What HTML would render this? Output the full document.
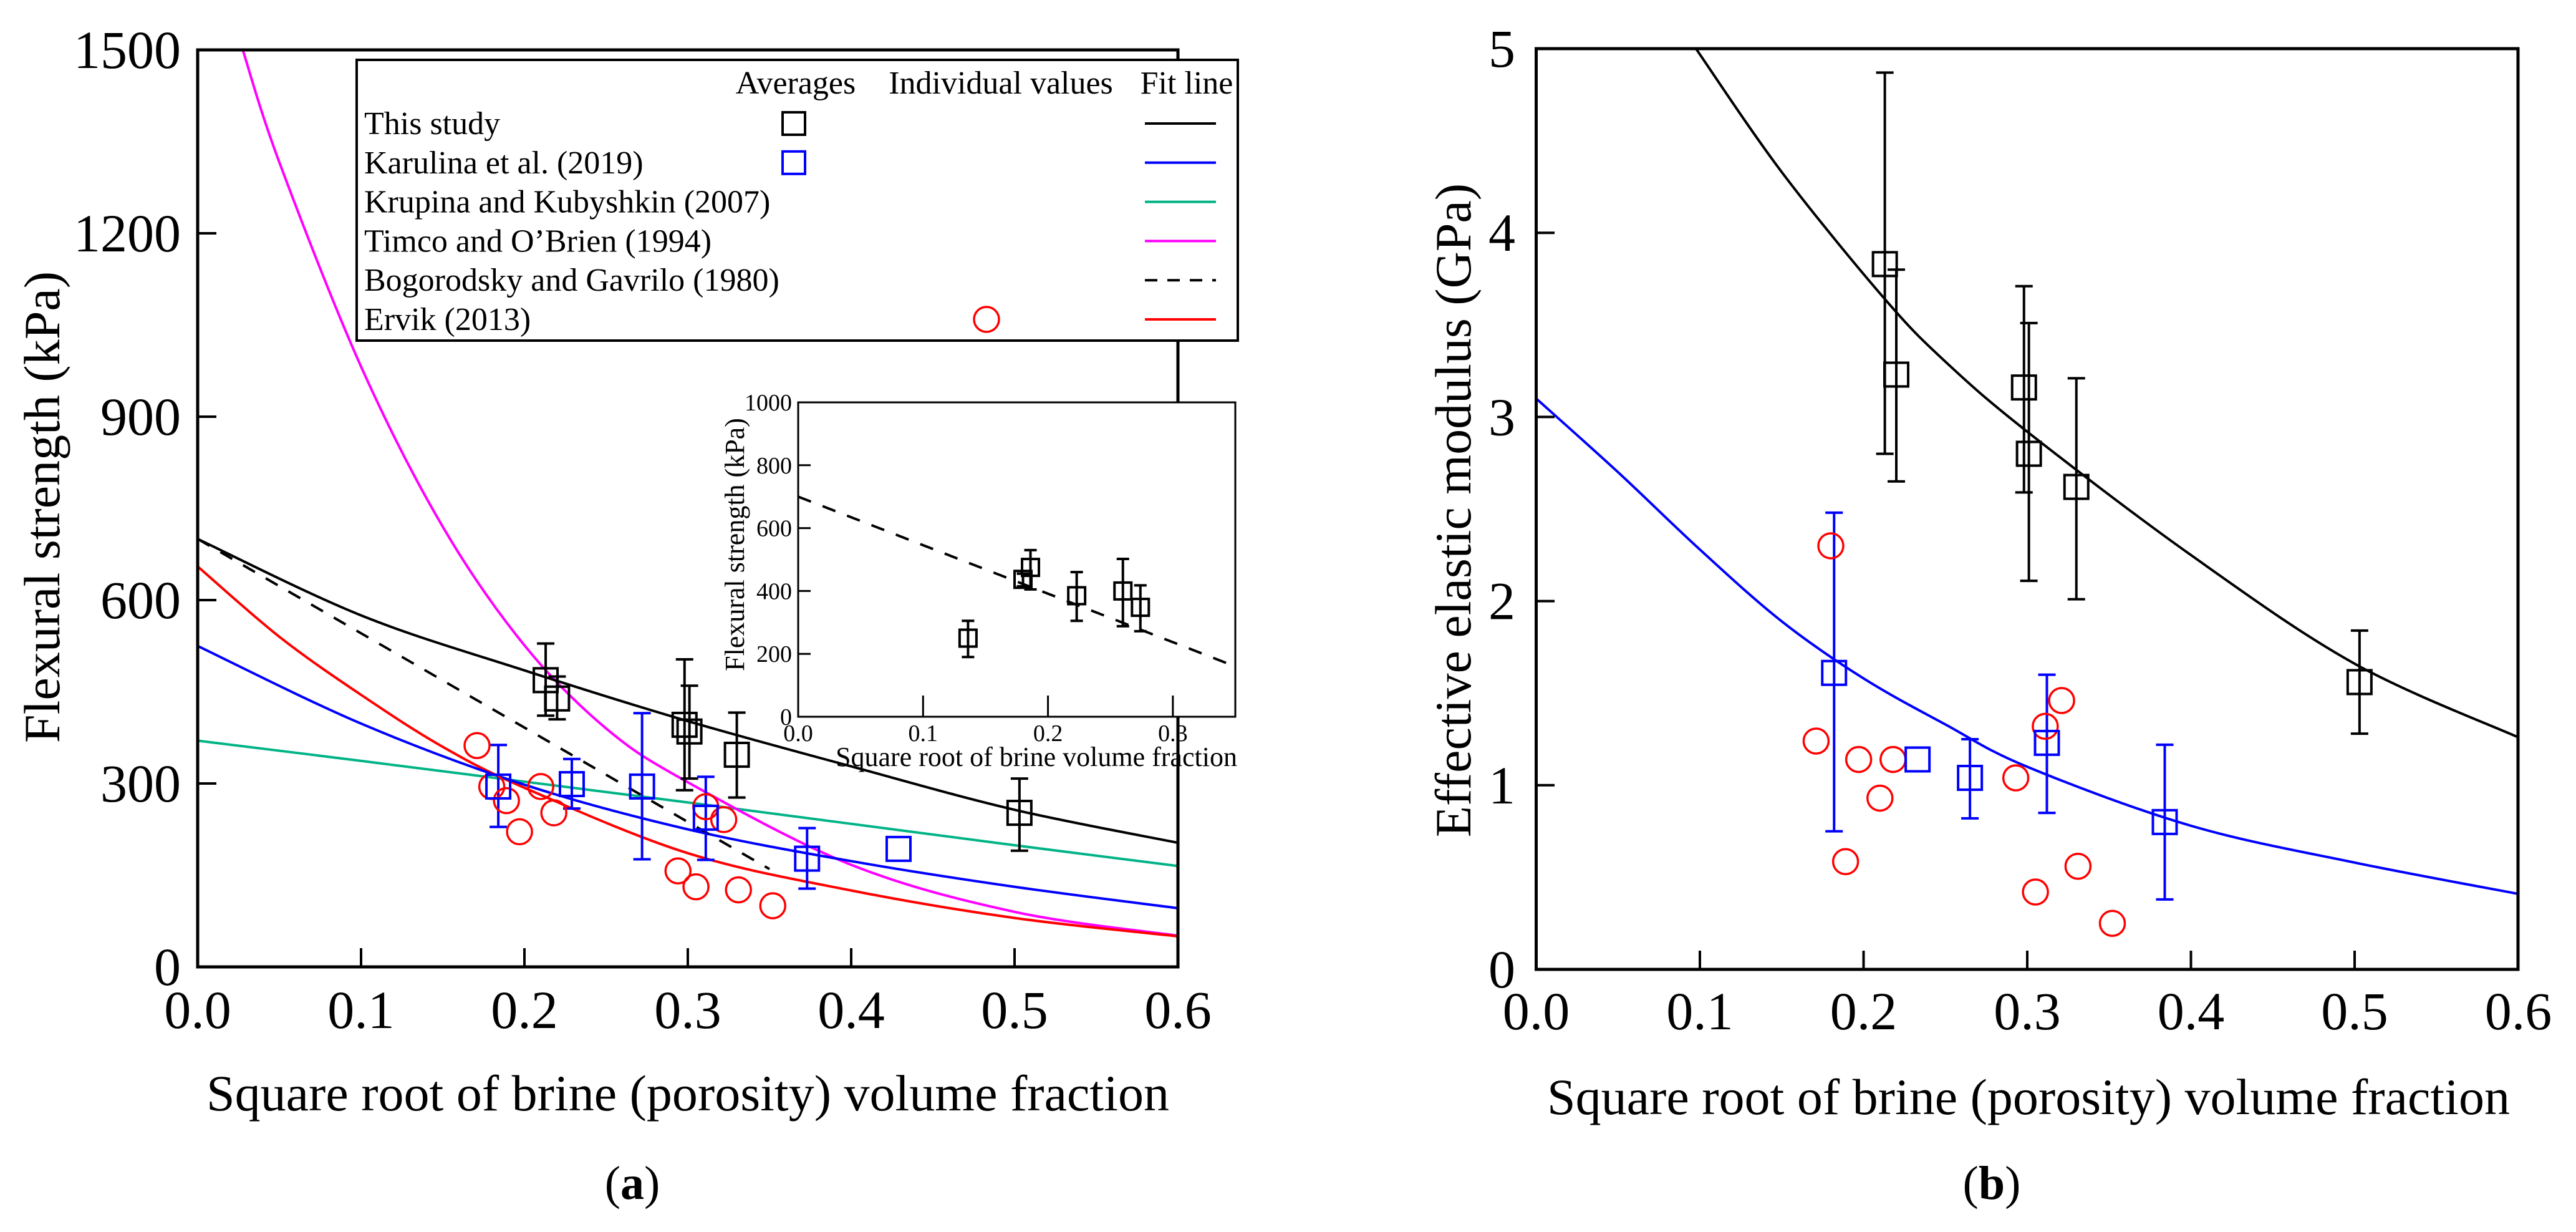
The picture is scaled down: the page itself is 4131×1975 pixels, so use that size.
<!DOCTYPE html>
<html><head><meta charset="utf-8"><style>
html,body{margin:0;padding:0;background:#fff;}
svg{display:block;}
svg text{font-family:"Liberation Serif","Times New Roman",serif;}
</style></head><body>
<svg id="fig" width="4131" height="1975" viewBox="0 0 4131 1975" xmlns="http://www.w3.org/2000/svg" font-family="Liberation Serif, serif">
<defs>
<clipPath id="clipA"><rect x="317" y="80" width="1572" height="1470"/></clipPath>
<clipPath id="clipB"><rect x="2463" y="78" width="1575" height="1476"/></clipPath>
<clipPath id="clipI"><rect x="1280" y="645" width="701" height="504"/></clipPath>
</defs>
<g id="root" font-family="Liberation Serif, serif"></g>
</svg>
<script>
// ---------- Panel (a) data ----------
const aTickX = [0,0.1,0.2,0.3,0.4,0.5,0.6];
const aTickY = [0,300,600,900,1200,1500];
const aThisX = [0.213,0.220,0.298,0.301,0.330,0.503];
const aThisY = [469,439,396,385,347,252];
const aThisHi = [529,475,503,460,416,308];
const aThisLo = [411,405,289,308,277,190];
const aKarX = [0.184,0.229,0.272,0.311,0.373,0.429];
const aKarY = [295,299,295,244,177,193];
const aKarHi = [363,340,415,311,227,null];
const aKarLo = [229,259,176,175,128,null];
const aErvX = [0.171,0.180,0.189,0.197,0.210,0.218,0.294,0.305,0.311,0.322,0.331,0.352];
const aErvY = [362,295,272,221,295,252,157,131,262,241,126,100];
const fitX = [0,0.1,0.2,0.3,0.4,0.5,0.6];
const fitThis = [700,575,485,402,328,257,203];
const fitKarulina = [525,398,298,225,173,131,96];
const fitKrupina = [370,337,303,269,234,199,165];
const fitTimcoX = [0.0276,0.05,0.1,0.15,0.2,0.25,0.3,0.4,0.5,0.6];
const fitTimco = [1500,1316,982,720,526,390,302,167,90,51];
const fitErvikX = [0,0.05,0.1,0.15,0.2,0.3,0.4,0.5,0.6];
const fitErvik = [655,540,445,360,293,186,125,80,50];
const fitBogX = [0,0.35];
const fitBog = [700,160];
// ---------- Inset data ----------
const iTickX = [0,0.1,0.2,0.3];
const iTickY = [0,200,400,600,800,1000];
const iX = [0.136,0.180,0.186,0.223,0.260,0.274];
const iY = [250,437,475,385,400,348];
const iHi = [305,455,530,460,502,418];
const iLo = [190,415,405,305,288,272];
// ---------- Panel (b) data ----------
const bTickX = [0,0.1,0.2,0.3,0.4,0.5,0.6];
const bTickY = [0,1,2,3,4,5];
const bThisX = [0.213,0.220,0.298,0.301,0.330,0.503];
const bThisY = [3.83,3.23,3.16,2.80,2.62,1.56];
const bThisHi = [4.87,3.80,3.71,3.51,3.21,1.84];
const bThisLo = [2.80,2.65,2.59,2.11,2.01,1.28];
const bKarX = [0.182,0.233,0.265,0.312,0.384];
const bKarY = [1.61,1.14,1.04,1.23,0.80];
const bKarHi = [2.48,null,1.25,1.60,1.22];
const bKarLo = [0.75,null,0.82,0.85,0.38];
const bErvX = [0.171,0.180,0.189,0.197,0.210,0.218,0.293,0.305,0.311,0.321,0.331,0.352];
const bErvY = [1.24,2.30,0.585,1.14,0.93,1.14,1.04,0.42,1.32,1.46,0.56,0.25];
const bFitThisX = [0.0976,0.15,0.213,0.25,0.3,0.4,0.5,0.6];
const bFitThis = [5,4.33,3.64,3.3,2.92,2.25,1.66,1.26];
const bFitKarX = [0,0.05,0.1,0.15,0.2,0.25,0.3,0.4,0.5,0.6];
const bFitKar = [3.1,2.7,2.28,1.89,1.58,1.33,1.10,0.78,0.58,0.41];

const NS = "http://www.w3.org/2000/svg";
const root = document.getElementById('root');
function mk(tag, attrs, parent){
  const e = document.createElementNS(NS, tag);
  for (const k in attrs) e.setAttribute(k, attrs[k]);
  (parent||root).appendChild(e);
  return e;
}
function txt(s, attrs, parent){ attrs['font-family']='Liberation Serif, serif'; const t = mk('text', attrs, parent); t.textContent = s; return t; }

const axA = v => 317 + v/0.6*1572;
const ayA = v => 1550 - v/1500*1470;
const axB = v => 2463.5 + v/0.6*1575;
const ayB = v => 1554 - v/5*1476;
const axI = v => 1280 + v/0.35*701;
const ayI = v => 1149 - v/1000*504;

function smoothPath(xs, ys, sx, sy){
  const p = xs.map((x,i)=>[sx(x), sy(ys[i])]);
  let d = `M${p[0][0]},${p[0][1]}`;
  if (p.length === 2) return d + ` L${p[1][0]},${p[1][1]}`;
  for (let i=0;i<p.length-1;i++){
    const p0 = p[i-1]||p[i], p1=p[i], p2=p[i+1], p3=p[i+2]||p[i+1];
    const c1=[p1[0]+(p2[0]-p0[0])/6, p1[1]+(p2[1]-p0[1])/6];
    const c2=[p2[0]-(p3[0]-p1[0])/6, p2[1]-(p3[1]-p1[1])/6];
    d += ` C${c1[0]},${c1[1]} ${c2[0]},${c2[1]} ${p2[0]},${p2[1]}`;
  }
  return d;
}

// ================= PANEL A =================
const gA = mk('g', {});


const curvesA = mk('g', {'clip-path':'url(#clipA)'}, gA);
function curve(parent, xs, ys, sx, sy, color, name, dash){
  const e = mk('path', {d: smoothPath(xs, ys, sx, sy), fill:'none', stroke:color, 'stroke-width':4, 'stroke-dasharray': dash||'none'}, parent);
  
  
}
curve(curvesA, fitX, fitKrupina, axA, ayA, '#00b386', 'krupina-fit-line');
curve(curvesA, fitTimcoX, fitTimco, axA, ayA, '#ff00ff', 'timco-fit-line');
curve(curvesA, fitErvikX, fitErvik, axA, ayA, '#ff0000', 'ervik-fit-line');
curve(curvesA, fitX, fitKarulina, axA, ayA, '#0000ff', 'karulina-fit-line');
curve(curvesA, fitX, fitThis, axA, ayA, '#000000', 'this-study-fit-line');
curve(curvesA, fitBogX, fitBog, axA, ayA, '#000000', 'bogorodsky-fit-line', '22,20');

function errBars(parent, xs, ys, hi, lo, sx, sy, color, name, cap){
  xs.forEach((x,i)=>{
    if (hi[i]==null) return;
    const X = sx(x);
    const g = mk('path', {d:`M${X},${sy(hi[i])} V${sy(lo[i])} M${X-cap},${sy(hi[i])} H${X+cap} M${X-cap},${sy(lo[i])} H${X+cap}`, stroke:color, 'stroke-width':4, fill:'none'}, parent);
    
    
  });
}
function squares(parent, xs, ys, sx, sy, color, name, s){
  xs.forEach((x,i)=>{
    const r = mk('rect', {x:sx(x)-s/2, y:sy(ys[i])-s/2, width:s, height:s, fill:'none', stroke:color, 'stroke-width':4}, parent);
    
    
  });
}
function circles(parent, xs, ys, sx, sy, name, r){
  xs.forEach((x,i)=>{
    const c = mk('circle', {cx:sx(x), cy:sy(ys[i]), r:r, fill:'none', stroke:'#ff0000', 'stroke-width':3.5}, parent);
    
    
  });
}
errBars(gA, aThisX, aThisY, aThisHi, aThisLo, axA, ayA, '#000', 'this-study-error-bar', 14);
errBars(gA, aKarX, aKarY, aKarHi, aKarLo, axA, ayA, '#0000ff', 'karulina-error-bar', 14);
circles(gA, aErvX, aErvY, axA, ayA, 'ervik-point', 20);
squares(gA, aThisX, aThisY, axA, ayA, '#000', 'this-study-average', 38);
squares(gA, aKarX, aKarY, axA, ayA, '#0000ff', 'karulina-average', 38);

function frame(parent, x0, y0, x1, y1, name){
  const r = mk('rect', {x:x0, y:y0, width:x1-x0, height:y1-y0, fill:'none', stroke:'#000', 'stroke-width':5}, parent);
  
  
}
frame(gA, 317, 80, 1889, 1550, 'plot-frame-a');
aTickY.forEach(v=>{
  const y = ayA(v);
  if (v>0 && v<1500) mk('line', {x1:317, x2:347, y1:y, y2:y, stroke:'#000', 'stroke-width':4}, gA);
  const t = txt(String(v), {x:290, y:y+29, 'font-size':86, 'text-anchor':'end'}, gA);
  
  
});
aTickX.forEach(v=>{
  const x = axA(v);
  if (v>0 && v<0.6) mk('line', {x1:x, x2:x, y1:1550, y2:1520, stroke:'#000', 'stroke-width':4}, gA);
  const t = txt(v.toFixed(1), {x:x, y:1648, 'font-size':86, 'text-anchor':'middle'}, gA);
  
  
});
let t;
t = txt('Flexural strength (kPa)', {x:0, y:0, 'font-size':82, 'text-anchor':'middle', transform:'translate(95,813) rotate(-90)'}, gA);


t = txt('Square root of brine (porosity) volume fraction', {x:1103, y:1780, 'font-size':82, 'text-anchor':'middle'}, gA);


t = txt('', {x:1014, y:1922, 'font-size':76, 'text-anchor':'middle'}, gA);
t.innerHTML = '(<tspan font-weight="bold">a</tspan>)';



// Legend
const leg = mk('g', {}, gA);


mk('rect', {x:572, y:96, width:1413, height:450, fill:'#fff', stroke:'#000', 'stroke-width':4}, leg);
[['Averages',1276],['Individual values',1605],['Fit line',1903]].forEach(h=>{
  const e = txt(h[0], {x:h[1], y:150, 'font-size':52, 'text-anchor':'middle'}, leg);
  
  
});
const legRows = [
  ['This study','#000','sq',null],
  ['Karulina et al. (2019)','#0000ff','sq',null],
  ['Krupina and Kubyshkin (2007)','#00b386',null,null],
  ['Timco and O\u2019Brien (1994)','#ff00ff',null,null],
  ['Bogorodsky and Gavrilo (1980)','#000',null,'dash'],
  ['Ervik (2013)','#ff0000','circ',null]
];
legRows.forEach((r,i)=>{
  const y = 198 + i*62.8;
  const g = mk('g', {}, leg);
  
  
  txt(r[0], {x:584, y:y+17, 'font-size':52}, g);
  if (r[2]==='sq') mk('rect', {x:1255, y:y-18, width:36, height:36, fill:'none', stroke:r[1], 'stroke-width':4}, g);
  if (r[2]==='circ') mk('circle', {cx:1582, cy:y, r:20, fill:'none', stroke:r[1], 'stroke-width':3.5}, g);
  mk('line', {x1:1836, x2:1950, y1:y, y2:y, stroke:r[1], 'stroke-width':4, 'stroke-dasharray': r[3]?'20,16':'none'}, g);
});

// Inset
const gI = mk('g', {}, gA);


mk('rect', {x:1280, y:645, width:701, height:504, fill:'#fff', stroke:'#000', 'stroke-width':3}, gI);
const curvesI = mk('g', {'clip-path':'url(#clipI)'}, gI);
curve(curvesI, fitBogX, fitBog, axI, ayI, '#000', 'inset-bogorodsky-line', '22,20');
errBars(gI, iX, iY, iHi, iLo, axI, ayI, '#000', 'inset-error-bar', 10);
squares(gI, iX, iY, axI, ayI, '#000', 'inset-average', 27);
iTickY.forEach(v=>{
  const y = ayI(v);
  if (v>0 && v<1000) mk('line', {x1:1280, x2:1300, y1:y, y2:y, stroke:'#000', 'stroke-width':3}, gI);
  const e = txt(String(v), {x:1270, y:y+13, 'font-size':38, 'text-anchor':'end'}, gI);
  
  
});
iTickX.forEach(v=>{
  const x = axI(v);
  if (v>0) mk('line', {x1:x, x2:x, y1:1149, y2:1115, stroke:'#000', 'stroke-width':3}, gI);
  const e = txt(v.toFixed(1), {x:x, y:1188, 'font-size':38, 'text-anchor':'middle'}, gI);
  
  
});
t = txt('Flexural strength (kPa)', {x:0, y:0, 'font-size':44, 'text-anchor':'middle', transform:'translate(1193,873) rotate(-90)'}, gI);


t = txt('Square root of brine volume fraction', {x:1662, y:1228, 'font-size':44, 'text-anchor':'middle'}, gI);


mk('line', {x1:1889, x2:1889, y1:1149, y2:1240, stroke:'#000', 'stroke-width':4}, gA);

// ================= PANEL B =================
const gB = mk('g', {});


const curvesB = mk('g', {'clip-path':'url(#clipB)'}, gB);
curve(curvesB, bFitThisX, bFitThis, axB, ayB, '#000', 'b-this-study-fit-line');
curve(curvesB, bFitKarX, bFitKar, axB, ayB, '#0000ff', 'b-karulina-fit-line');
errBars(gB, bThisX, bThisY, bThisHi, bThisLo, axB, ayB, '#000', 'b-this-study-error-bar', 14);
errBars(gB, bKarX, bKarY, bKarHi, bKarLo, axB, ayB, '#0000ff', 'b-karulina-error-bar', 14);
circles(gB, bErvX, bErvY, axB, ayB, 'b-ervik-point', 20);
squares(gB, bThisX, bThisY, axB, ayB, '#000', 'b-this-study-average', 38);
squares(gB, bKarX, bKarY, axB, ayB, '#0000ff', 'b-karulina-average', 38);
frame(gB, 2463.5, 78, 4038, 1554, 'plot-frame-b');
bTickY.forEach(v=>{
  const y = ayB(v);
  if (v>0 && v<5) mk('line', {x1:2463.5, x2:2493, y1:y, y2:y, stroke:'#000', 'stroke-width':4}, gB);
  const e = txt(String(v), {x:2430, y:y+29, 'font-size':86, 'text-anchor':'end'}, gB);
  
  
});
bTickX.forEach(v=>{
  const x = axB(v);
  if (v>0 && v<0.6) mk('line', {x1:x, x2:x, y1:1554, y2:1524, stroke:'#000', 'stroke-width':4}, gB);
  const e = txt(v.toFixed(1), {x:x, y:1650, 'font-size':86, 'text-anchor':'middle'}, gB);
  
  
});
t = txt('Effective elastic modulus (GPa)', {x:0, y:0, 'font-size':82, 'text-anchor':'middle', transform:'translate(2358,818) rotate(-90)'}, gB);


t = txt('Square root of brine (porosity) volume fraction', {x:3253, y:1786, 'font-size':82, 'text-anchor':'middle'}, gB);


t = txt('', {x:3194, y:1922, 'font-size':76, 'text-anchor':'middle'}, gB);
t.innerHTML = '(<tspan font-weight="bold">b</tspan>)';


</script>
</body></html>
